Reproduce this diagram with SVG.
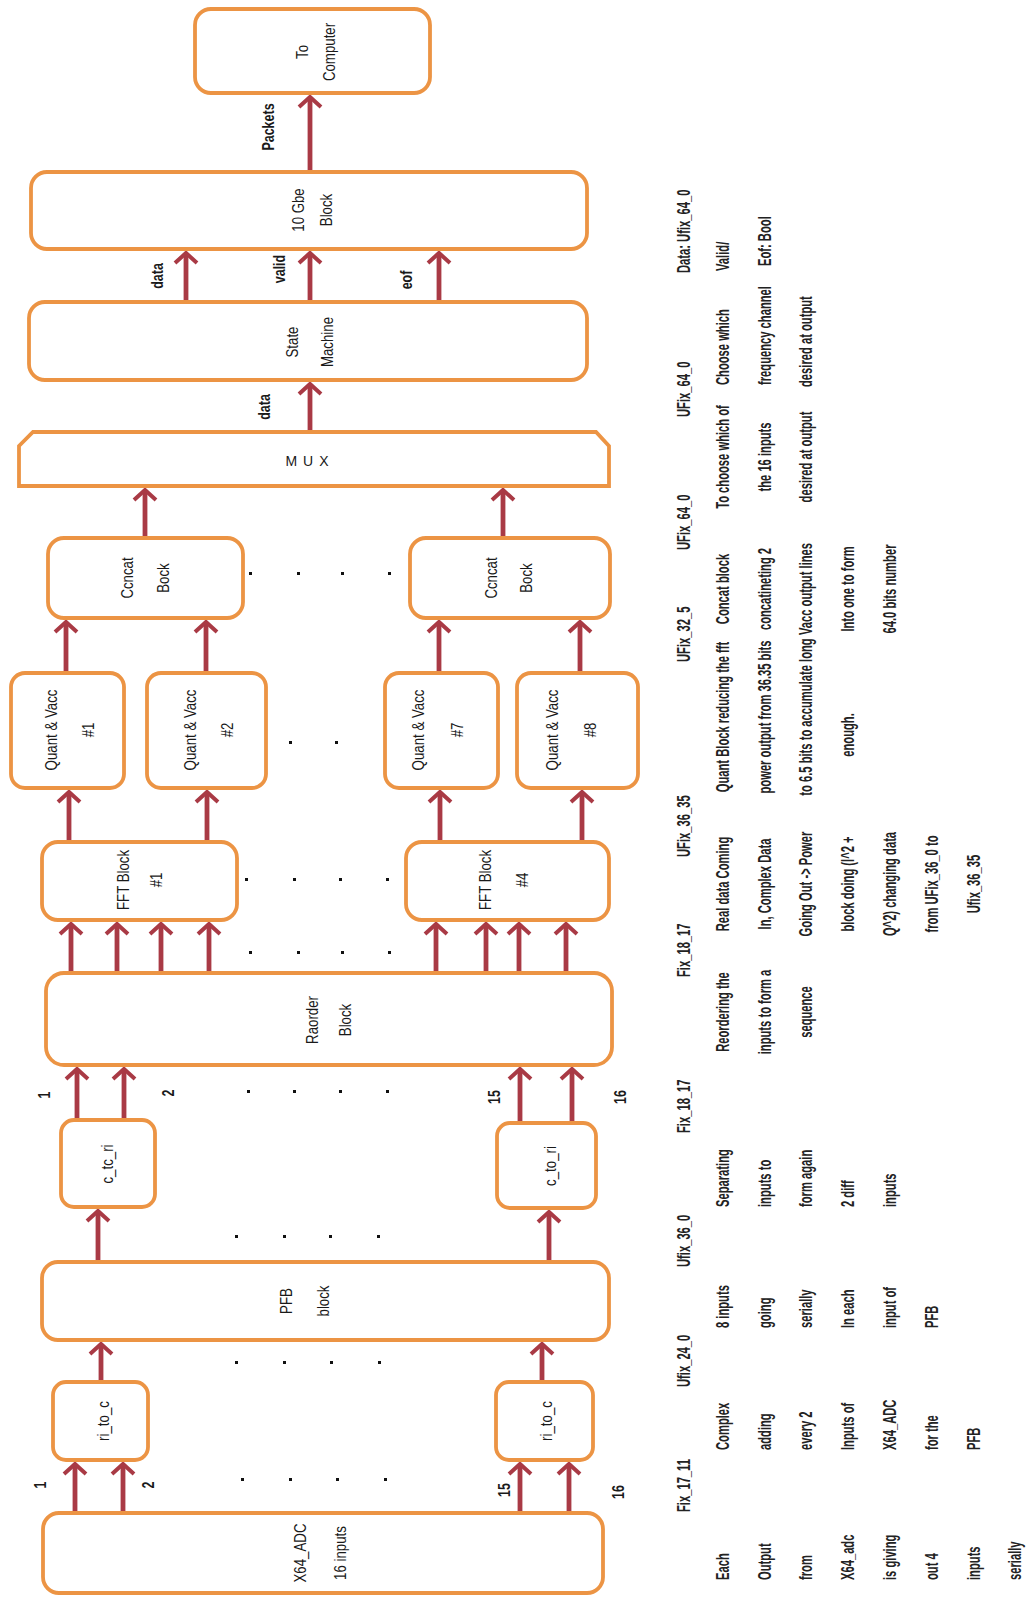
<svg xmlns="http://www.w3.org/2000/svg" width="1029" height="1598" viewBox="0 0 1029 1598">
<defs>
<style>
.box{fill:#fff;stroke:#EC9444;stroke-width:3.8}
.ar{stroke:#A93A45;stroke-width:4.8;fill:none;marker-end:url(#ah)}
text{font-family:"Liberation Sans",Arial,sans-serif;fill:#1a1a1a}
.bt{font-size:17px;text-anchor:middle;dominant-baseline:central}
.lb{font-size:16px;font-weight:bold;text-anchor:middle;dominant-baseline:central}
.tb{font-size:19px;font-weight:bold;dominant-baseline:central;fill:#222}
.s{text-anchor:start}
.m{text-anchor:middle}
.dot{fill:#111}
</style>
<marker id="ah" markerUnits="userSpaceOnUse" markerWidth="30" markerHeight="30" viewBox="-15 -15 30 30" refX="0" refY="0" orient="auto" overflow="visible">
<path d="M -10 -11 L 0 0 L -10 11" fill="none" stroke="#A93A45" stroke-width="4"/>
</marker>
</defs>
<rect width="1029" height="1598" fill="#fff"/>

<g id="connectors">
<line class="ar" x1="310" y1="172" x2="310" y2="97"/>
<line class="ar" x1="186" y1="302" x2="186" y2="253"/>
<line class="ar" x1="310" y1="302" x2="310" y2="253"/>
<line class="ar" x1="439" y1="302" x2="439" y2="253"/>
<line class="ar" x1="310" y1="432" x2="310" y2="384"/>
<line class="ar" x1="145" y1="538" x2="145" y2="490"/>
<line class="ar" x1="503" y1="538" x2="503" y2="490"/>
<line class="ar" x1="66" y1="673" x2="66" y2="622"/>
<line class="ar" x1="206" y1="673" x2="206" y2="622"/>
<line class="ar" x1="439" y1="673" x2="439" y2="622"/>
<line class="ar" x1="580" y1="673" x2="580" y2="622"/>
<line class="ar" x1="69" y1="842" x2="69" y2="792"/>
<line class="ar" x1="207" y1="842" x2="207" y2="792"/>
<line class="ar" x1="440" y1="842" x2="440" y2="792"/>
<line class="ar" x1="582" y1="842" x2="582" y2="792"/>
<line class="ar" x1="71" y1="973" x2="71" y2="924"/>
<line class="ar" x1="117" y1="973" x2="117" y2="924"/>
<line class="ar" x1="161" y1="973" x2="161" y2="924"/>
<line class="ar" x1="209" y1="973" x2="209" y2="924"/>
<line class="ar" x1="436" y1="973" x2="436" y2="924"/>
<line class="ar" x1="486" y1="973" x2="486" y2="924"/>
<line class="ar" x1="519" y1="973" x2="519" y2="924"/>
<line class="ar" x1="566" y1="973" x2="566" y2="924"/>
<line class="ar" x1="77" y1="1120" x2="77" y2="1069"/>
<line class="ar" x1="124" y1="1120" x2="124" y2="1069"/>
<line class="ar" x1="520" y1="1123" x2="520" y2="1069"/>
<line class="ar" x1="572" y1="1123" x2="572" y2="1069"/>
<line class="ar" x1="98" y1="1262" x2="98" y2="1211"/>
<line class="ar" x1="549" y1="1262" x2="549" y2="1212"/>
<line class="ar" x1="101" y1="1382" x2="101" y2="1344"/>
<line class="ar" x1="542" y1="1382" x2="542" y2="1344"/>
<line class="ar" x1="75" y1="1513" x2="75" y2="1464"/>
<line class="ar" x1="123" y1="1513" x2="123" y2="1464"/>
<line class="ar" x1="520" y1="1513" x2="520" y2="1464"/>
<line class="ar" x1="569" y1="1513" x2="569" y2="1464"/>
<text class="lb" transform="translate(268,127) rotate(-90) scale(0.78,1)">Packets</text>
<text class="lb" transform="translate(157,276) rotate(-90) scale(0.78,1)">data</text>
<text class="lb" transform="translate(279,269) rotate(-90) scale(0.78,1)">valid</text>
<text class="lb" transform="translate(406,280) rotate(-90) scale(0.78,1)">eof</text>
<text class="lb" transform="translate(264,407) rotate(-90) scale(0.78,1)">data</text>
<text class="lb" transform="translate(44,1095) rotate(-90) scale(0.78,1)">1</text>
<text class="lb" transform="translate(168,1093) rotate(-90) scale(0.78,1)">2</text>
<text class="lb" transform="translate(494,1097) rotate(-90) scale(0.78,1)">15</text>
<text class="lb" transform="translate(620,1097) rotate(-90) scale(0.78,1)">16</text>
<text class="lb" transform="translate(40,1485) rotate(-90) scale(0.78,1)">1</text>
<text class="lb" transform="translate(148,1485) rotate(-90) scale(0.78,1)">2</text>
<text class="lb" transform="translate(504,1490) rotate(-90) scale(0.78,1)">15</text>
<text class="lb" transform="translate(618,1492) rotate(-90) scale(0.78,1)">16</text>
</g>

<g id="dots">
<rect class="dot" x="249" y="572" width="3" height="3"/><rect class="dot" x="297" y="572" width="3" height="3"/><rect class="dot" x="341" y="572" width="3" height="3"/><rect class="dot" x="388" y="572" width="3" height="3"/>
<rect class="dot" x="289" y="741" width="3" height="3"/><rect class="dot" x="335" y="741" width="3" height="3"/>
<rect class="dot" x="245" y="878" width="3" height="3"/><rect class="dot" x="293" y="878" width="3" height="3"/><rect class="dot" x="339" y="878" width="3" height="3"/><rect class="dot" x="386" y="878" width="3" height="3"/>
<rect class="dot" x="249" y="951" width="3" height="3"/><rect class="dot" x="297" y="951" width="3" height="3"/><rect class="dot" x="341" y="951" width="3" height="3"/><rect class="dot" x="388" y="951" width="3" height="3"/>
<rect class="dot" x="247" y="1090" width="3" height="3"/><rect class="dot" x="293" y="1090" width="3" height="3"/><rect class="dot" x="339" y="1090" width="3" height="3"/><rect class="dot" x="386" y="1090" width="3" height="3"/>
<rect class="dot" x="235" y="1235" width="3" height="3"/><rect class="dot" x="283" y="1235" width="3" height="3"/><rect class="dot" x="329" y="1235" width="3" height="3"/><rect class="dot" x="377" y="1235" width="3" height="3"/>
<rect class="dot" x="235" y="1361" width="3" height="3"/><rect class="dot" x="283" y="1361" width="3" height="3"/><rect class="dot" x="330" y="1361" width="3" height="3"/><rect class="dot" x="378" y="1361" width="3" height="3"/>
<rect class="dot" x="241" y="1478" width="3" height="3"/><rect class="dot" x="289" y="1478" width="3" height="3"/><rect class="dot" x="336" y="1478" width="3" height="3"/><rect class="dot" x="384" y="1478" width="3" height="3"/>
</g>

<g id="to-computer"><rect class="box" x="195" y="9" width="235" height="84" rx="16"/>
<text class="bt" transform="translate(302,52) rotate(-90) scale(0.78,1)">To</text>
<text class="bt" transform="translate(329,52) rotate(-90) scale(0.78,1)">Computer</text></g>

<g id="gbe"><rect class="box" x="31" y="172" width="556" height="77" rx="16"/>
<text class="bt" transform="translate(298,210) rotate(-90) scale(0.78,1)">10 Gbe</text>
<text class="bt" transform="translate(326,210) rotate(-90) scale(0.78,1)">Block</text></g>

<g id="state-machine"><rect class="box" x="29" y="302" width="558" height="78" rx="16"/>
<text class="bt" transform="translate(292,342) rotate(-90) scale(0.78,1)">State</text>
<text class="bt" transform="translate(327,342) rotate(-90) scale(0.78,1)">Machine</text></g>

<g id="mux"><path class="box" d="M33 432 L596 432 L609 446 L609 486 L19 486 L19 446 Z"/>
<text x="310" y="466" font-size="14" text-anchor="middle" letter-spacing="6" fill="#333">MUX</text></g>

<g id="concat-1"><rect class="box" x="48" y="538" width="195" height="80" rx="16"/>
<text class="bt" transform="translate(127,578) rotate(-90) scale(0.78,1)">Ccncat</text>
<text class="bt" transform="translate(163,578) rotate(-90) scale(0.78,1)">Bock</text></g>

<g id="concat-2"><rect class="box" x="410" y="538" width="200" height="80" rx="16"/>
<text class="bt" transform="translate(491,578) rotate(-90) scale(0.78,1)">Ccncat</text>
<text class="bt" transform="translate(526,578) rotate(-90) scale(0.78,1)">Bock</text></g>

<g id="quant-1"><rect class="box" x="11" y="673" width="113" height="115" rx="14"/>
<text class="bt" transform="translate(51,730) rotate(-90) scale(0.78,1)">Quant &amp; Vacc</text>
<text class="bt" transform="translate(88,730) rotate(-90) scale(0.78,1)">#1</text></g>

<g id="quant-2"><rect class="box" x="147" y="673" width="119" height="115" rx="14"/>
<text class="bt" transform="translate(190,730) rotate(-90) scale(0.78,1)">Quant &amp; Vacc</text>
<text class="bt" transform="translate(227,730) rotate(-90) scale(0.78,1)">#2</text></g>

<g id="quant-7"><rect class="box" x="385" y="673" width="113" height="115" rx="14"/>
<text class="bt" transform="translate(418,730) rotate(-90) scale(0.78,1)">Quant &amp; Vacc</text>
<text class="bt" transform="translate(457,730) rotate(-90) scale(0.78,1)">#7</text></g>

<g id="quant-8"><rect class="box" x="517" y="673" width="121" height="115" rx="14"/>
<text class="bt" transform="translate(552,730) rotate(-90) scale(0.78,1)">Quant &amp; Vacc</text>
<text class="bt" transform="translate(590,730) rotate(-90) scale(0.78,1)">#8</text></g>

<g id="fft-1"><rect class="box" x="42" y="842" width="195" height="78" rx="16"/>
<text class="bt" transform="translate(123,880) rotate(-90) scale(0.78,1)">FFT Block</text>
<text class="bt" transform="translate(156,880) rotate(-90) scale(0.78,1)">#1</text></g>

<g id="fft-4"><rect class="box" x="406" y="842" width="203" height="78" rx="16"/>
<text class="bt" transform="translate(485,880) rotate(-90) scale(0.78,1)">FFT Block</text>
<text class="bt" transform="translate(522,880) rotate(-90) scale(0.78,1)">#4</text></g>

<g id="reorder"><rect class="box" x="46" y="973" width="566" height="92" rx="18"/>
<text class="bt" transform="translate(312,1020) rotate(-90) scale(0.78,1)">Raorder</text>
<text class="bt" transform="translate(345,1020) rotate(-90) scale(0.78,1)">Block</text></g>

<g id="c-to-ri-1"><rect class="box" x="61" y="1120" width="94" height="87" rx="13"/>
<text class="bt" transform="translate(107,1164) rotate(-90) scale(0.78,1)">c_tc_ri</text></g>

<g id="c-to-ri-2"><rect class="box" x="497" y="1123" width="99" height="85" rx="13"/>
<text class="bt" transform="translate(550,1166) rotate(-90) scale(0.78,1)">c_to_ri</text></g>

<g id="pfb"><rect class="box" x="42" y="1262" width="567" height="78" rx="16"/>
<text class="bt" transform="translate(286,1301) rotate(-90) scale(0.78,1)">PFB</text>
<text class="bt" transform="translate(323,1301) rotate(-90) scale(0.78,1)">block</text></g>

<g id="ri-to-c-1"><rect class="box" x="53" y="1382" width="95" height="78" rx="13"/>
<text class="bt" transform="translate(103,1421) rotate(-90) scale(0.78,1)">ri_to_c</text></g>

<g id="ri-to-c-2"><rect class="box" x="496" y="1382" width="97" height="78" rx="13"/>
<text class="bt" transform="translate(546,1421) rotate(-90) scale(0.78,1)">ri_to_c</text></g>

<g id="adc"><rect class="box" x="43" y="1513" width="560" height="80" rx="16"/>
<text class="bt" transform="translate(300,1553) rotate(-90) scale(0.78,1)">X64_ADC</text>
<text class="bt" transform="translate(340,1553) rotate(-90) scale(0.78,1)">16 inputs</text></g>

<g id="notes">
<text class="tb s" transform="translate(683,1512) rotate(-90) scale(0.59,1)">Fix_17_11</text>
<text class="tb s" transform="translate(722,1580) rotate(-90) scale(0.59,1)">Each</text>
<text class="tb s" transform="translate(764,1580) rotate(-90) scale(0.59,1)">Output</text>
<text class="tb s" transform="translate(805,1580) rotate(-90) scale(0.59,1)">from</text>
<text class="tb s" transform="translate(847,1580) rotate(-90) scale(0.59,1)">X64_adc</text>
<text class="tb s" transform="translate(889,1580) rotate(-90) scale(0.59,1)">is giving</text>
<text class="tb s" transform="translate(931,1580) rotate(-90) scale(0.59,1)">out 4</text>
<text class="tb s" transform="translate(973,1580) rotate(-90) scale(0.59,1)">inputs</text>
<text class="tb s" transform="translate(1014,1580) rotate(-90) scale(0.59,1)">serially</text>

<text class="tb s" transform="translate(683,1387) rotate(-90) scale(0.59,1)">Ufix_24_0</text>
<text class="tb s" transform="translate(722,1450) rotate(-90) scale(0.59,1)">Complex</text>
<text class="tb s" transform="translate(764,1450) rotate(-90) scale(0.59,1)">adding</text>
<text class="tb s" transform="translate(805,1450) rotate(-90) scale(0.59,1)">every 2</text>
<text class="tb s" transform="translate(847,1450) rotate(-90) scale(0.59,1)">Inputs of</text>
<text class="tb s" transform="translate(889,1450) rotate(-90) scale(0.59,1)">X64_ADC</text>
<text class="tb s" transform="translate(931,1450) rotate(-90) scale(0.59,1)">for the</text>
<text class="tb s" transform="translate(973,1450) rotate(-90) scale(0.59,1)">PFB</text>

<text class="tb s" transform="translate(683,1267) rotate(-90) scale(0.59,1)">Ufix_36_0</text>
<text class="tb s" transform="translate(722,1328) rotate(-90) scale(0.59,1)">8 inputs</text>
<text class="tb s" transform="translate(764,1328) rotate(-90) scale(0.59,1)">going</text>
<text class="tb s" transform="translate(805,1328) rotate(-90) scale(0.59,1)">serially</text>
<text class="tb s" transform="translate(847,1328) rotate(-90) scale(0.59,1)">In each</text>
<text class="tb s" transform="translate(889,1328) rotate(-90) scale(0.59,1)">input of</text>
<text class="tb s" transform="translate(931,1328) rotate(-90) scale(0.59,1)">PFB</text>

<text class="tb s" transform="translate(683,1133) rotate(-90) scale(0.59,1)">Fix_18_17</text>
<text class="tb s" transform="translate(722,1207) rotate(-90) scale(0.59,1)">Separating</text>
<text class="tb s" transform="translate(764,1207) rotate(-90) scale(0.59,1)">inputs to</text>
<text class="tb s" transform="translate(805,1207) rotate(-90) scale(0.59,1)">form again</text>
<text class="tb s" transform="translate(847,1207) rotate(-90) scale(0.59,1)">2 diff</text>
<text class="tb s" transform="translate(889,1207) rotate(-90) scale(0.59,1)">inputs</text>

<text class="tb s" transform="translate(683,977) rotate(-90) scale(0.59,1)">Fix_18_17</text>
<text class="tb m" transform="translate(722,1012) rotate(-90) scale(0.59,1)">Reordering the</text>
<text class="tb m" transform="translate(764,1012) rotate(-90) scale(0.59,1)">inputs to form a</text>
<text class="tb m" transform="translate(805,1012) rotate(-90) scale(0.59,1)">sequence</text>

<text class="tb s" transform="translate(683,857) rotate(-90) scale(0.59,1)">UFix_36_35</text>
<text class="tb m" transform="translate(722,884) rotate(-90) scale(0.59,1)">Real data Coming</text>
<text class="tb m" transform="translate(764,884) rotate(-90) scale(0.59,1)">In, Complex Data</text>
<text class="tb m" transform="translate(805,884) rotate(-90) scale(0.59,1)">Going Out -&gt; Power</text>
<text class="tb m" transform="translate(847,884) rotate(-90) scale(0.59,1)">block doing (I^2 +</text>
<text class="tb m" transform="translate(889,884) rotate(-90) scale(0.59,1)">Q^2) changing data</text>
<text class="tb m" transform="translate(931,884) rotate(-90) scale(0.59,1)">from UFix_36_0 to</text>
<text class="tb m" transform="translate(973,884) rotate(-90) scale(0.59,1)">Ufix_36_35</text>

<text class="tb s" transform="translate(683,662) rotate(-90) scale(0.59,1)">UFix_32_5</text>
<text class="tb m" transform="translate(722,717) rotate(-90) scale(0.59,1)">Quant Block reducing the fft</text>
<text class="tb m" transform="translate(764,717) rotate(-90) scale(0.59,1)">power output from 36.35 bits</text>
<text class="tb m" transform="translate(805,717) rotate(-90) scale(0.59,1)">to 6.5 bits to accumulate long</text>
<text class="tb m" transform="translate(847,735) rotate(-90) scale(0.59,1)">enough.</text>

<text class="tb s" transform="translate(683,550) rotate(-90) scale(0.59,1)">UFix_64_0</text>
<text class="tb m" transform="translate(722,589) rotate(-90) scale(0.59,1)">Concat block</text>
<text class="tb m" transform="translate(764,589) rotate(-90) scale(0.59,1)">concatineting 2</text>
<text class="tb m" transform="translate(805,589) rotate(-90) scale(0.59,1)">Vacc output lines</text>
<text class="tb m" transform="translate(847,589) rotate(-90) scale(0.59,1)">Into one to form</text>
<text class="tb m" transform="translate(889,589) rotate(-90) scale(0.59,1)">64.0 bits number</text>

<text class="tb s" transform="translate(683,417) rotate(-90) scale(0.59,1)">UFix_64_0</text>
<text class="tb m" transform="translate(722,457) rotate(-90) scale(0.59,1)">To choose which of</text>
<text class="tb m" transform="translate(764,457) rotate(-90) scale(0.59,1)">the 16 inputs</text>
<text class="tb m" transform="translate(805,457) rotate(-90) scale(0.59,1)">desired at output</text>

<text class="tb s" transform="translate(683,273) rotate(-90) scale(0.59,1)">Data: Ufix_64_0</text>
<text class="tb s" transform="translate(722,385) rotate(-90) scale(0.59,1)">Choose which</text>
<text class="tb s" transform="translate(764,385) rotate(-90) scale(0.59,1)">frequency channel</text>
<text class="tb s" transform="translate(805,387) rotate(-90) scale(0.59,1)">desired at output</text>
<text class="tb s" transform="translate(722,271) rotate(-90) scale(0.59,1)">Valid/</text>
<text class="tb s" transform="translate(764,266) rotate(-90) scale(0.59,1)">Eof: Bool</text>
</g>
</svg>
